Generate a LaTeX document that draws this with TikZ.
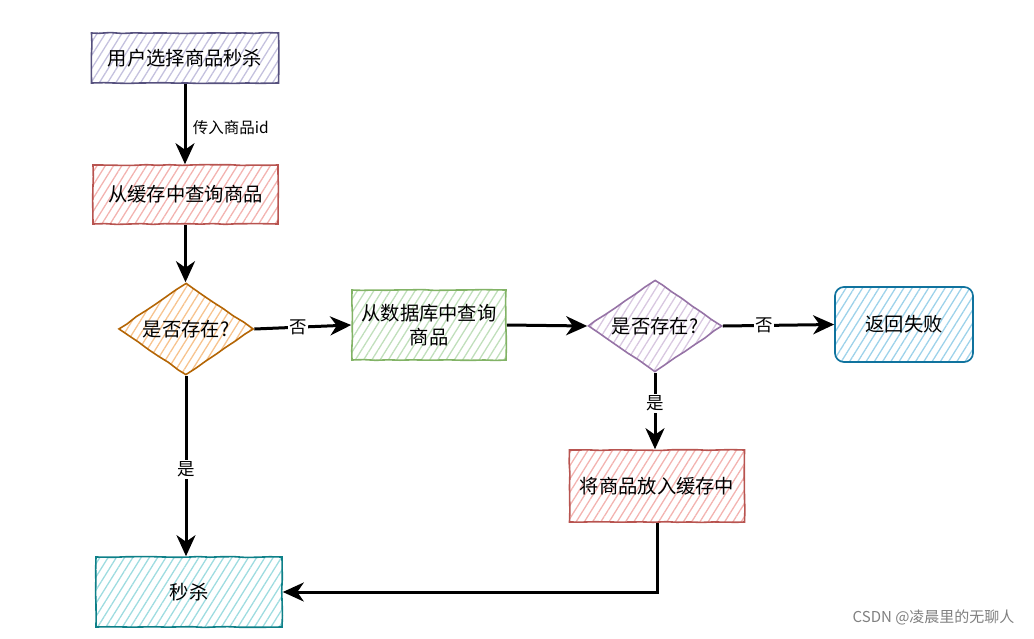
\documentclass[tikz,border=0pt]{standalone}
\usepackage{fontspec}
\setmainfont{Noto Sans CJK SC}
\usetikzlibrary{shapes.geometric,arrows.meta,patterns.meta,decorations.pathmorphing}

% stroke / fill colour pairs
\definecolor{violetS}{HTML}{56517E}\definecolor{violetF}{HTML}{C4C1DE}
\definecolor{redS}{HTML}{B85450}\definecolor{redF}{HTML}{F3B3B0}
\definecolor{orangeS}{HTML}{B46504}\definecolor{orangeF}{HTML}{F7C38E}
\definecolor{greenS}{HTML}{82B366}\definecolor{greenF}{HTML}{C0DFBB}
\definecolor{purpleS}{HTML}{9673A6}\definecolor{purpleF}{HTML}{D8C7E0}
\definecolor{blueS}{HTML}{10739E}\definecolor{blueF}{HTML}{9DD2EA}
\definecolor{tealS}{HTML}{0E8088}\definecolor{tealF}{HTML}{9EDCE0}

\begin{document}
\begin{tikzpicture}[x=1pt,y=-1pt,
  txt/.style={font=\fontsize{19.3}{24}\selectfont},
  lbl/.style={fill=white,inner sep=1.5pt,font=\fontsize{17.5}{20}\selectfont},
  sketch/.style={line width=1.6pt,decorate,
    decoration={random steps,segment length=12pt,amplitude=0.45pt}},
  hatch/.style={pattern={Lines[angle=58,distance=7pt,line width=1.3pt]},pattern color=#1},
  procbox/.style n args={4}{txt,sketch,draw=#1,hatch=#2,
    minimum width=#3,minimum height=#4,inner sep=0pt,align=center},
  decision/.style n args={2}{txt,sketch,draw=#1,hatch=#2,diamond,aspect=1.46,
    minimum width=135pt,minimum height=92pt,inner sep=0pt},
  flow/.style={line width=3pt,-{Stealth[length=21pt,width=19pt,inset=6.5pt]}}]

\useasboundingbox (0,0) rectangle (1034,638);

% process steps
\node[procbox={violetS}{violetF}{187pt}{50pt}] (select) at (185,58) {用户选择商品秒杀};
\node[procbox={redS}{redF}{185pt}{59pt}] (cache) at (185.5,194.5) {从缓存中查询商品};
\node[decision={orangeS}{orangeF}] (exist1) at (186,329) {是否存在?};
\node[procbox={greenS}{greenF}{154pt}{70pt}] (db) at (429,325) {从数据库中查询\\商品};
\node[decision={purpleS}{purpleF},minimum width=134pt] (exist2) at (655,326) {是否存在?};
\node[txt,draw=blueS,line width=1.7pt,hatch=blueF,rounded corners=9pt,
      minimum width=138pt,minimum height=75pt,inner sep=0pt] (fail) at (904,324.5) {返回失败};
\node[procbox={redS}{redF}{175pt}{72pt}] (put) at (657,486) {将商品放入缓存中};
\node[procbox={tealS}{tealF}{186pt}{70pt}] (kill) at (189,592) {秒杀};

% connectors
\draw[flow] (select.south) -- node[pos=0.55,anchor=west,xshift=3pt,font=\fontsize{15.5}{18}\selectfont]{传入商品id} (select.south |- cache.north);
\draw[flow] (cache.south) -- (cache.south |- exist1.north);
\draw[flow] (exist1.east) -- node[lbl,pos=0.45]{否} (db.west);
\draw[flow] (db.east) -- (exist2.west);
\draw[flow] (exist2.east) -- node[lbl,pos=0.37]{否} (fail.west);
\draw[flow] (exist2.south) -- node[lbl,pos=0.4]{是} (exist2.south |- put.north);
\draw[flow] (exist1.south) -- node[lbl,pos=0.52]{是} (exist1.south |- kill.north);
\draw[flow] (put.south) |- (kill.east);

% source credit
\node[font=\fontsize{15}{18}\selectfont,text=black!50,anchor=east] (credit) at (1018,617) {CSDN @凌晨里的无聊人};
\end{tikzpicture}
\end{document}
